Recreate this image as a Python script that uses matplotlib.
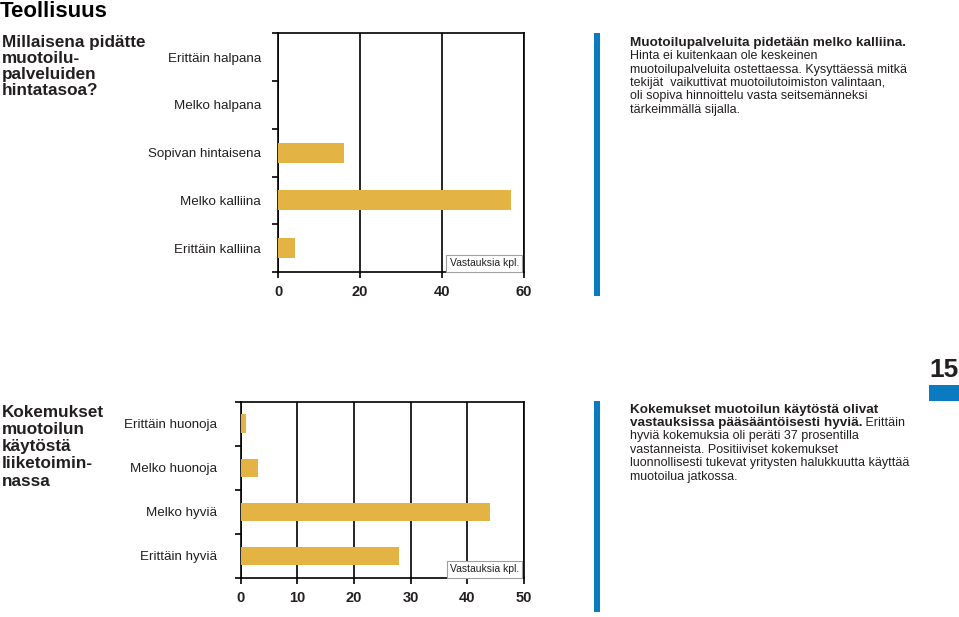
import matplotlib
matplotlib.use("Agg")
import matplotlib.pyplot as plt
from matplotlib.patches import Rectangle
import numpy as np

plt.rcParams['font.family'] = ['Liberation Sans', 'DejaVu Sans']

# Millaisena pidätte muotoilupalveluiden hintatasoa?
price_labels = ["Erittäin halpana", "Melko halpana", "Sopivan hintaisena",
                "Melko kalliina", "Erittäin kalliina"]
price_counts = [0, 0, 16, 57, 4]
price_ticks = [0, 20, 40, 60]

# Kokemukset muotoilun käytöstä liiketoiminnassa
exp_labels = ["Erittäin huonoja", "Melko huonoja", "Melko hyviä", "Erittäin hyviä"]
exp_counts = [1, 3, 44, 28]
exp_ticks = [0, 10, 20, 30, 40, 50]

BAR = "#E3B443"
BLUE = "#0B7BC1"
TXT = "#231F20"
W, H = 959, 617


def px(x, y):
    return x / W, 1 - y / H


def bar_chart(fig, box, labels, counts, ticks, pad):
    l, t, r, b = box
    ax = fig.add_axes([l / W, 1 - b / H, (r - l) / W, (b - t) / H])
    n = len(labels)
    y = np.arange(n)
    ax.barh(y, counts, height=0.42, color=BAR, zorder=3)
    ax.set_xlim(ticks[0], ticks[-1])
    ax.set_ylim(n - 0.5, -0.5)
    ax.set_xticks(ticks)
    ax.set_xticklabels([str(v) for v in ticks], fontsize=10.5, fontweight='bold', color=TXT)
    ax.set_yticks(np.arange(n + 1) - 0.5)
    ax.set_yticklabels([])
    ax.set_yticks(y, labels=labels, minor=True)
    ax.tick_params(axis='y', which='minor', length=0, pad=pad, labelsize=9.6, labelcolor=TXT)
    ax.tick_params(axis='y', which='major', length=4, width=1.2)
    ax.tick_params(axis='x', length=4, width=1.2, pad=5)
    ax.grid(axis='x', color='black', linewidth=1.2, zorder=1)
    for s in ax.spines.values():
        s.set_linewidth(1.2)
    ax.annotate("Vastauksia kpl.", xy=(1, 0), xycoords='axes fraction',
                xytext=(-3.5, 2.6), textcoords='offset points', ha='right', va='bottom',
                fontsize=7.5, color=TXT, zorder=5,
                bbox=dict(boxstyle='square,pad=0.3', fc='white', ec='#A0A0A0', lw=0.8))
    return ax


def lines(fig, x, y0, step, rows, **kw):
    out = []
    for i, row in enumerate(rows):
        out.append(fig.text(*px(x, y0 + i * step), row, va='baseline', **kw))
    return out


fig = plt.figure(figsize=(9.59, 6.17), dpi=100)

ax1 = bar_chart(fig, (278.3, 33.3, 523.7, 272), price_labels, price_counts, price_ticks, 12.5)
ax2 = bar_chart(fig, (240.7, 401.7, 524, 578), exp_labels, exp_counts, exp_ticks, 17)

fig.text(*px(0, 17.3), "Teollisuus", fontsize=16, fontweight='bold', va='baseline', color='black')

lines(fig, 2, 46.7, 16.1,
      ["Millaisena pidätte", "muotoilu-", "palveluiden", "hintatasoa?"],
      fontsize=12.3, fontweight='bold', color=TXT)
lines(fig, 2, 416.7, 17.2,
      ["Kokemukset", "muotoilun", "käytöstä", "liiketoimin-", "nassa"],
      fontsize=12.3, fontweight='bold', color=TXT)

# oikean puolen tekstit
lines(fig, 630, 46, 13.3, ["Muotoilupalveluita pidetään melko kalliina."],
      fontsize=9.7, fontweight='bold', color=TXT)
lines(fig, 630, 46 + 13.3, 13.3,
      ["Hinta ei kuitenkaan ole keskeinen",
       "muotoilupalveluita ostettaessa. Kysyttäessä mitkä",
       "tekijät  vaikuttivat muotoilutoimiston valintaan,",
       "oli sopiva hinnoittelu vasta seitsemänneksi",
       "tärkeimmällä sijalla."],
      fontsize=9, color=TXT)

bold_rows = lines(fig, 630, 412.7, 13.4,
                  ["Kokemukset muotoilun käytöstä olivat",
                   "vastauksissa pääsääntöisesti hyviä."],
                  fontsize=9.7, fontweight='bold', color=TXT)
ax2.annotate(" Erittäin", xy=(1, 0), xycoords=bold_rows[1], va='bottom', ha='left',
             fontsize=9, color=TXT, annotation_clip=False)
lines(fig, 630, 412.7 + 2 * 13.4, 13.4,
      ["hyviä kokemuksia oli peräti 37 prosentilla",
       "vastanneista. Positiiviset kokemukset",
       "luonnollisesti tukevat yritysten halukkuutta käyttää",
       "muotoilua jatkossa."],
      fontsize=9, color=TXT)

# siniset palkit ja sivunumero
for x0, y0, x1, y1 in [(594, 33, 600, 296), (594, 400.7, 600, 611.7), (929, 385, 959, 401)]:
    fig.add_artist(Rectangle(px(x0, y1), (x1 - x0) / W, (y1 - y0) / H,
                             transform=fig.transFigure, color=BLUE, lw=0))
fig.text(*px(929, 377), "15", fontsize=19, fontweight='bold', va='baseline', color=TXT)

fig.savefig("out.png", dpi=100)
